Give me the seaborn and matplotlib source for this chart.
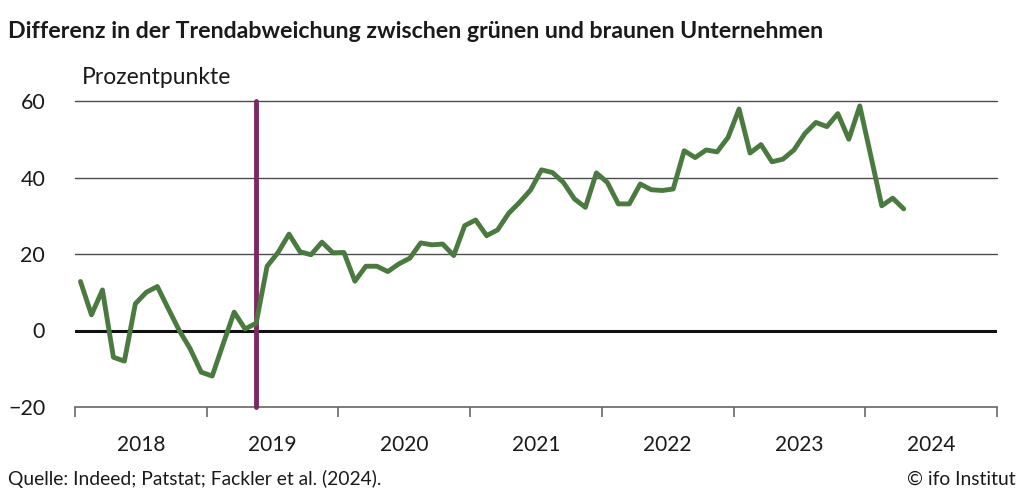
import numpy as np
import pandas as pd
import matplotlib
matplotlib.use("Agg")
import matplotlib.pyplot as plt
import seaborn as sns

# Monthly values, Jan 2018 - Apr 2024 (Prozentpunkte)
values = [12.8, 4.1, 10.6, -7.0, -8.0, 7.0, 10.0, 11.5, 5.7, 0.0, -4.8, -10.9,
          -11.9, -3.5, 4.8, 0.4, 1.9, 16.8, 20.4, 25.2, 20.6, 19.8, 23.1, 20.3,
          20.4, 12.9, 16.8, 16.8, 15.4, 17.4, 18.9, 22.9, 22.4, 22.6, 19.6, 27.4,
          28.9, 24.8, 26.3, 30.6, 33.5, 36.7, 42.0, 41.3, 38.7, 34.4, 32.2, 41.2,
          38.7, 33.1, 33.1, 38.3, 36.8, 36.6, 37.0, 47.0, 45.2, 47.2, 46.7, 50.5,
          57.9, 46.4, 48.6, 44.1, 44.8, 47.2, 51.5, 54.4, 53.3, 56.7, 50.0, 58.7,
          45.7, 32.6, 34.6, 31.8]
years = ["2018", "2019", "2020", "2021", "2022", "2023", "2024"]
yticks = [-20, 0, 20, 40, 60]
marker_month = 16  # May 2019

df = pd.DataFrame({"month": np.arange(len(values)), "value": values})

sns.set_theme(style="white")
plt.rcParams["font.family"] = ["Lato", "DejaVu Sans"]

fig = plt.figure(figsize=(10.24, 4.97), dpi=100)
ax = fig.add_axes([75/1024, 1-407/497, (997-75)/1024, (407-101)/497])

green = "#4a7a40"
purple = "#7a2a62"

for y in [20, 40, 60]:
    ax.axhline(y, color="#4d4d4d", lw=1.0, zorder=1, clip_on=False)
ax.axhline(0, color="#111111", lw=2.2, zorder=2)
ax.axvline(marker_month, color=purple, lw=3.5, zorder=3, clip_on=False)

sns.lineplot(data=df, x="month", y="value", ax=ax, color=green, lw=3.5,
             zorder=4, solid_joinstyle="round", solid_capstyle="round")

ax.set_xlim(-0.5, 83.5)
ax.set_ylim(-20, 60)
for s in ["left", "right", "top"]:
    ax.spines[s].set_visible(False)
ax.spines["bottom"].set_color("#666666")
ax.spines["bottom"].set_linewidth(1.2)

ax.set_yticks(yticks)
ax.set_yticklabels([("\u221220" if v < 0 else str(v)) for v in yticks])
ax.tick_params(axis="y", length=0, pad=21.5, labelsize=15.5, labelcolor="#1a1a1a")
for lab in ax.get_yticklabels():
    lab.set_horizontalalignment("right")

ax.set_xticks([-0.5 + 12*i for i in range(len(years)+1)])
ax.set_xticklabels([])
ax.tick_params(axis="x", which="major", length=7, width=1.2, color="#666666",
               direction="out", bottom=True)
ax.set_xticks([5.5 + 12*i for i in range(len(years))], minor=True)
ax.set_xticklabels(years, minor=True)
ax.tick_params(axis="x", which="minor", length=0, pad=20, labelsize=15,
               labelcolor="#1a1a1a")
ax.set_xlabel("")
ax.set_ylabel("")

fig.text(8/1024, 1-31/497, "Differenz in der Trendabweichung zwischen grünen und braunen Unternehmen",
         fontsize=16.7, fontweight="bold", color="#1a1a1a", va="center", ha="left")
fig.text(82/1024, 1-77/497, "Prozentpunkte", fontsize=16.5, color="#1a1a1a",
         va="center", ha="left")
fig.text(8/1024, 1-479/497, "Quelle: Indeed; Patstat; Fackler et al. (2024).",
         fontsize=13.9, color="#1a1a1a", va="center", ha="left")
fig.text(1016/1024, 1-479/497, "© ifo Institut", fontsize=13.9, color="#1a1a1a",
         va="center", ha="right")

fig.savefig("out.png", dpi=100, facecolor="white")
